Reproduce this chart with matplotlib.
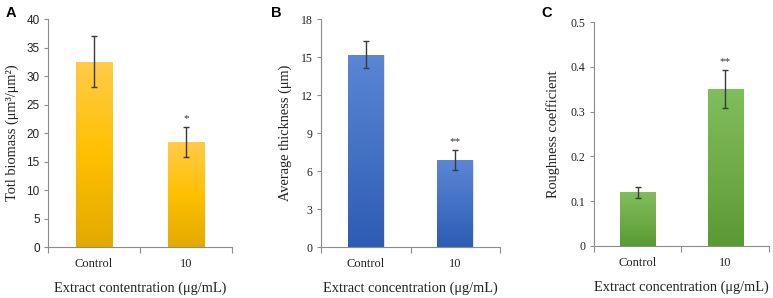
import numpy as np
import matplotlib
matplotlib.use("Agg")
import matplotlib.pyplot as plt
from matplotlib.colors import LinearSegmentedColormap
from matplotlib.ticker import FixedLocator, FuncFormatter

categories = ["Control", "10"]

biomass = [32.5, 18.4]
biomass_err = [4.5, 2.6]
thickness = [15.2, 6.85]
thickness_err = [1.1, 0.8]
roughness = [0.12, 0.35]
roughness_err = [0.012, 0.042]
signif_A = ["", "*"]
signif_B = ["", "**"]
signif_C = ["", "**"]

yticks_A = [0, 5, 10, 15, 20, 25, 30, 35, 40]
yticks_B = [0, 3, 6, 9, 12, 15, 18]
yticks_C = [0, 0.1, 0.2, 0.3, 0.4, 0.5]

SERIF = "Liberation Serif"
SANS = "Liberation Sans"

fig = plt.figure(figsize=(7.73, 2.98), dpi=100)

panels = [
    dict(pos=[0.0621, 0.171, 0.2379, 0.765], vals=biomass, err=biomass_err, sig=signif_A,
         yt=yticks_A, ylab="Totl biomass (\u03bcm\u00b3/\u03bcm\u00b2)",
         xlab="Extract contentration (\u03bcg/mL)", letter="A",
         colors=["#FFCB4A", "#FFC000", "#E2AA00"], tickfont=SANS, ticksize=8.5,
         letter_xy=(0.007, 0.955), ylab_x=0.0165),
    dict(pos=[0.4153, 0.171, 0.2315, 0.765], vals=thickness, err=thickness_err, sig=signif_B,
         yt=yticks_B, ylab="Average thickness (\u03bcm)",
         xlab="Extract concentration (\u03bcg/mL)", letter="B",
         colors=["#5B86D6", "#4472C4", "#2E5BB4"], tickfont=SERIF, ticksize=8.5,
         letter_xy=(0.351, 0.955), ylab_x=0.369),
    dict(pos=[0.7684, 0.1745, 0.2264, 0.7515], vals=roughness, err=roughness_err, sig=signif_C,
         yt=yticks_C, ylab="Roughness coefficient",
         xlab="Extract concentration (\u03bcg/mL)", letter="C",
         colors=["#80BE5E", "#70AD47", "#5A9A32"], tickfont=SERIF, ticksize=8.5,
         letter_xy=(0.701, 0.955), ylab_x=0.716),
]

x = np.arange(len(categories))
for p in panels:
    ax = fig.add_axes(p["pos"])
    cmap = LinearSegmentedColormap.from_list("g", p["colors"][::-1])
    bars = ax.bar(x, p["vals"], width=0.4, color=p["colors"][1],
                  edgecolor=(1, 1, 1, 0.6), linewidth=0.8, zorder=2)
    grad = np.linspace(0, 1, 256).reshape(-1, 1)
    for b in bars:
        bx, by, bw, bh = b.get_x(), b.get_y(), b.get_width(), b.get_height()
        im = ax.imshow(grad, cmap=cmap, origin="lower", aspect="auto",
                       extent=[bx, bx + bw, by, by + bh], zorder=2.5,
                       interpolation="bilinear")
        im.set_clip_path(b)
    ax.errorbar(x, p["vals"], yerr=p["err"], fmt="none", ecolor="#3a3a3a",
                elinewidth=1.0, capsize=2.2, capthick=1.0, zorder=4)
    for xi, v, e, s in zip(x, p["vals"], p["err"], p["sig"]):
        if s:
            ax.annotate(s, (xi, v + e), xytext=(0, 3), textcoords="offset points",
                        ha="center", va="bottom", fontsize=8, family=SERIF,
                        color="#333333")
    ax.set_xlim(-0.5, 1.5)
    ax.set_ylim(p["yt"][0], p["yt"][-1])
    ax.yaxis.set_major_locator(FixedLocator(p["yt"]))
    ax.yaxis.set_major_formatter(FuncFormatter(lambda v, pos: f"{v:g}"))
    ax.set_xticks([-0.5, 0.5, 1.5])
    ax.set_xticklabels([])
    ax.set_xticks(x, minor=True)
    ax.set_xticklabels(categories, minor=True, family=SERIF, fontsize=9, color="#222222")
    ax.tick_params(axis="x", which="minor", length=0, pad=8)
    ax.tick_params(axis="x", which="major", length=4, width=0.8, color="#8c8c8c",
                   direction="out")
    ax.tick_params(axis="y", length=3, width=0.8, color="#8c8c8c", direction="out",
                   labelsize=p["ticksize"], labelcolor="#222222", pad=3)
    for lab in ax.get_yticklabels():
        lab.set_family(p["tickfont"])
    for side in ["top", "right"]:
        ax.spines[side].set_visible(False)
    for side in ["left", "bottom"]:
        ax.spines[side].set_color("#8c8c8c")
        ax.spines[side].set_linewidth(0.8)
    ax.set_xlabel(p["xlab"], family=SERIF, fontsize=10.4, labelpad=8, color="#222222")
    fig.text(p["ylab_x"], p["pos"][1] + p["pos"][3] / 2, p["ylab"], rotation=90,
             ha="center", va="center", family=SERIF, fontsize=10.4, color="#222222")
    fig.text(p["letter_xy"][0], p["letter_xy"][1], p["letter"], family=SANS,
             fontweight="bold", fontsize=10.5, ha="left", va="center")

fig.savefig("out.png", dpi=100, facecolor="white")
